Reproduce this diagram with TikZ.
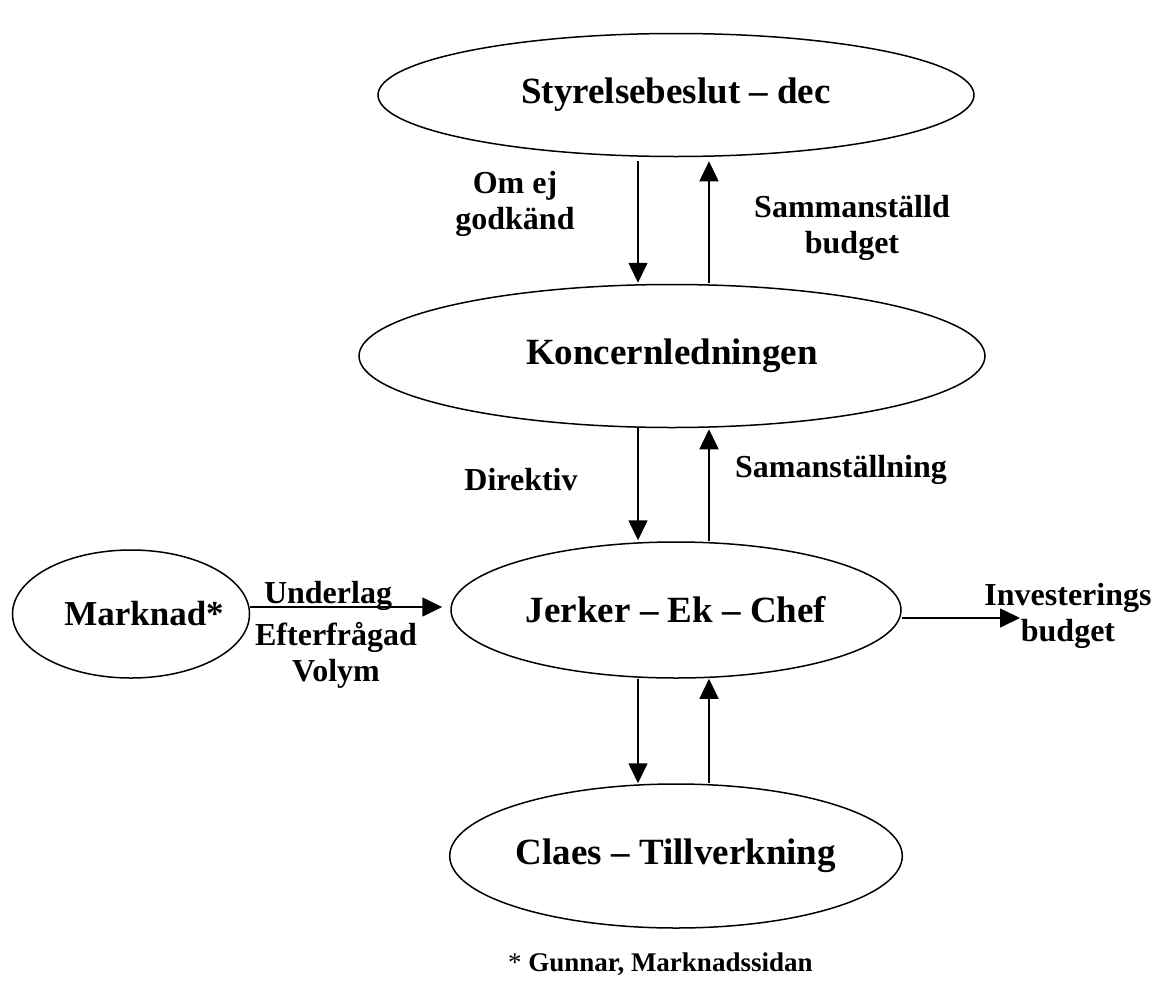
\documentclass[tikz,border=0pt]{standalone}
\usepackage{fontspec}
\setmainfont{Liberation Serif}
\usetikzlibrary{positioning,arrows.meta,shapes.geometric}
\tikzset{
    base/.style={font=\bfseries, align=center, inner sep=0pt},
    stage/.style={base, ellipse, draw, line width=1.5pt,
                  font=\fontsize{37}{44}\selectfont\bfseries},
    flow/.style={-{Triangle[length=20pt,width=19pt]}, line width=1.6pt},
    tag/.style={base, font=\fontsize{32}{36}\selectfont\bfseries}
}

\begin{document}
\begin{tikzpicture}[x=1pt, y=-1pt]
  \useasboundingbox (0,0) rectangle (1156,980);

  % Stages (ellipses)
  \node[stage, minimum width=596pt, minimum height=123pt] (styr) at (676,95) {Styrelsebeslut – dec};
  \node[stage, minimum width=626pt, minimum height=143pt] (konc) at (672,356) {Koncernledningen};
  \node[stage, minimum width=450pt, minimum height=136pt] (jerk) at (676,610) {Jerker – Ek – Chef};
  \node[stage, minimum width=446pt, minimum height=144pt] (claes) at (676,856) {Claes – Tillverkning};
  \node[stage, minimum width=237pt, minimum height=128pt,
        label={[font=\fontsize{35}{42}\selectfont\bfseries, xshift=13pt]center:Marknad*}] (mark) at (131,614) {};

  % Board <-> group management
  \draw[flow, shorten <=4pt, shorten >=1pt] ([xshift=-38pt]styr.south) -- ([xshift=-38pt]styr.south |- konc.north);
  \draw[flow, shorten <=1pt, shorten >=4pt] ([xshift=37pt]konc.north) -- ([xshift=37pt]konc.north |- styr.south);
  \node[tag] (omej) at (515,204) {Om ej\\godkänd};
  \node[tag] (sambud) at (852,228) {Sammanställd\\budget};

  % Group management <-> Jerker
  \draw[flow, shorten >=1pt] ([xshift=-34pt]konc.south) -- ([xshift=-34pt]konc.south |- jerk.north);
  \draw[flow, shorten >=1pt] ([xshift=33pt]jerk.north) -- ([xshift=33pt]jerk.north |- konc.south);
  \node[tag, anchor=base] (direktiv) at (521,490) {Direktiv};
  \node[tag, anchor=base] (saml) at (841,477) {Samanställning};

  % Jerker <-> Claes
  \draw[flow] ([xshift=-38pt]jerk.south) -- ([xshift=-38pt]jerk.south |- claes.north);
  \draw[flow] ([xshift=33pt]claes.north) -- ([xshift=33pt]claes.north |- jerk.south);

  % Market input
  \draw[flow, shorten >=8pt] ([yshift=7pt]mark.east) -- ([yshift=7pt]mark.east -| jerk.west);
  \node[tag, anchor=base] (underlag) at (328,603) {Underlag};
  \node[tag] (efter) at (336,655) {Efterfrågad\\Volym};

  % Investment budget out
  \coordinate (invtip) at (1020,618);
  \draw[flow] (jerk.east |- invtip) -- (invtip);
  \node[tag] (invest) at (1068,616) {Investerings\\budget};

  % Footnote
  \node[base, anchor=base west, font=\fontsize{27}{32}\selectfont] (gunnar) at (508,971)
    {{\mdseries *} \textbf{Gunnar, Marknadssidan}};
\end{tikzpicture}
\end{document}
